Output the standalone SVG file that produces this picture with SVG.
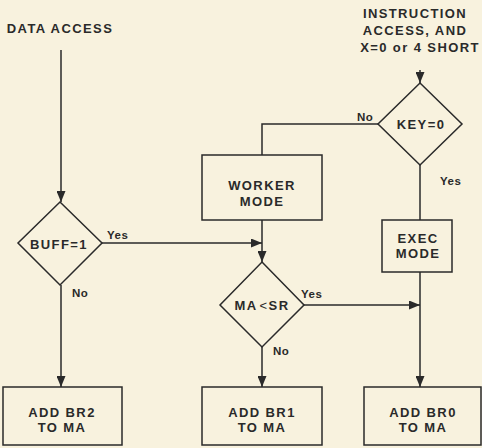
<svg xmlns="http://www.w3.org/2000/svg" width="482" height="448" viewBox="0 0 482 448">
<style>
.bg{fill:#f8f2de}
.sh{fill:none;stroke:#2a2a2a;stroke-width:1.5}
.ln{fill:none;stroke:#2a2a2a;stroke-width:1.5}
.t{font-family:"Liberation Sans",Arial,sans-serif;font-weight:bold;font-size:13px;fill:#2a2a2a;letter-spacing:1.4px;text-anchor:middle}
.l{font-family:"Liberation Sans",Arial,sans-serif;font-weight:bold;font-size:11.5px;fill:#2a2a2a;letter-spacing:0.5px}
</style>
<defs>
<marker id="ah" viewBox="0 0 11 9" refX="11" refY="4.5" markerWidth="11" markerHeight="9" markerUnits="userSpaceOnUse" orient="auto">
<path d="M0,0 L11,4.5 L0,9 Z" fill="#2a2a2a"/>
</marker>
</defs>
<rect class="bg" x="0" y="0" width="482" height="448"/>
<g id="data-access"><text class="t" x="60" y="33">DATA ACCESS</text></g>
<g id="instr-access">
<text class="t" x="415" y="18">INSTRUCTION</text>
<text class="t" x="415" y="35">ACCESS, AND</text>
<text class="t" x="420" y="52">X=0 or 4 SHORT</text>
</g>
<g id="buff"><path class="sh" d="M60,202 L102,243 L60,285 L18,243 Z"/><text class="t" x="59" y="249">BUFF=1</text></g>
<g id="key"><path class="sh" d="M420,83 L462,124 L420,165 L378,124 Z"/><text class="t" x="421" y="129">KEY=0</text></g>
<g id="worker"><rect class="sh" x="202" y="155" width="120" height="65"/><text class="t" x="262" y="190">WORKER</text><text class="t" x="262" y="206">MODE</text></g>
<g id="exec"><rect class="sh" x="382" y="220" width="70" height="52"/><text class="t" x="418" y="243">EXEC</text><text class="t" x="418" y="258">MODE</text></g>
<g id="masr"><path class="sh" d="M262,262 L304,305 L262,347 L220,305 Z"/><text class="t" x="262" y="310">MA<tspan font-weight="normal" dx="2">&lt;</tspan>SR</text></g>
<g id="br2"><rect class="sh" x="3" y="387" width="119" height="58"/><text class="t" x="62" y="417">ADD BR2</text><text class="t" x="62" y="432">TO MA</text></g>
<g id="br1"><rect class="sh" x="202" y="387" width="120" height="58"/><text class="t" x="262" y="417">ADD BR1</text><text class="t" x="262" y="432">TO MA</text></g>
<g id="br0"><rect class="sh" x="364" y="387" width="117" height="58"/><text class="t" x="423" y="417">ADD BR0</text><text class="t" x="423" y="432">TO MA</text></g>
<g id="connectors">
<path class="ln" d="M61,50 L61,202" marker-end="url(#ah)"/>
<path class="ln" d="M102,243 L262,243" marker-end="url(#ah)"/>
<path class="ln" d="M61,285 L61,387" marker-end="url(#ah)"/>
<path class="ln" d="M420,70 L420,83" marker-end="url(#ah)"/>
<path class="ln" d="M378,124 L262,124 L262,155"/>
<path class="ln" d="M262,220 L262,262" marker-end="url(#ah)"/>
<path class="ln" d="M420,165 L420,220"/>
<path class="ln" d="M304,305 L420,305" marker-end="url(#ah)"/>
<path class="ln" d="M420,272 L420,387" marker-end="url(#ah)"/>
<path class="ln" d="M262,347 L262,387" marker-end="url(#ah)"/>
</g>
<g id="labels">
<text class="l" x="107" y="239">Yes</text>
<text class="l" x="72" y="297">No</text>
<text class="l" x="357" y="121">No</text>
<text class="l" x="440" y="185">Yes</text>
<text class="l" x="301" y="298">Yes</text>
<text class="l" x="273" y="355">No</text>
</g>
</svg>
